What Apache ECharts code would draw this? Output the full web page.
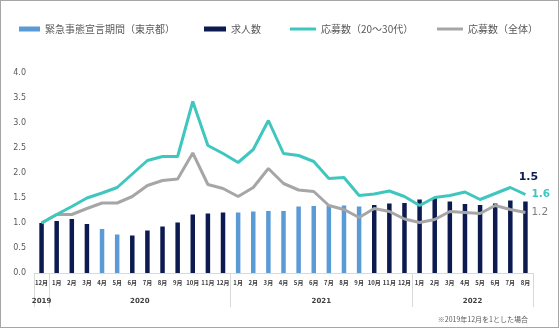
<!DOCTYPE html>
<html><head><meta charset="utf-8">
<script src="https://cdn.jsdelivr.net/npm/echarts@6/dist/echarts.min.js"></script>
<style>
html,body{margin:0;padding:0;background:#fff}
#c{position:absolute;left:0;top:0;width:559px;height:328px}
#b{position:absolute;left:0;top:0;width:559px;height:328px;box-sizing:border-box;border:1px solid #a6a6a6;pointer-events:none}
</style>
</head><body><div id="c"></div><div id="b"></div><script>
const months = ['12月','1月','2月','3月','4月','5月','6月','7月','8月','9月','10月','11月','12月',
  '1月','2月','3月','4月','5月','6月','7月','8月','9月','10月','11月','12月',
  '1月','2月','3月','4月','5月','6月','7月','8月'];
const years = ['2019','2020','2021','2022'];
const yearSpans = [1,12,12,8];
const emergency = [0,0,0,0,1,1,0,0,0,0,0,0,0, 1,1,1,1,1,1,1,1,1,0,0,0, 0,0,0,0,0,0,0,0];
const jobs = [1.00,1.04,1.08,0.98,0.88,0.77,0.75,0.85,0.93,1.01,1.17,1.19,1.21,
  1.21,1.23,1.24,1.24,1.33,1.34,1.35,1.35,1.33,1.36,1.39,1.40,
  1.47,1.51,1.43,1.38,1.36,1.39,1.45,1.43];
const applyYoung = [1.00,1.17,1.33,1.50,1.60,1.71,1.98,2.25,2.33,2.33,3.43,2.55,2.39,
  2.21,2.47,3.05,2.39,2.35,2.23,1.89,1.91,1.55,1.58,1.64,1.53,
  1.35,1.51,1.55,1.62,1.47,1.59,1.71,1.57];
const applyAll = [1.00,1.17,1.17,1.29,1.40,1.40,1.53,1.75,1.85,1.88,2.40,1.77,1.69,
  1.53,1.71,2.09,1.79,1.66,1.63,1.35,1.27,1.11,1.29,1.23,1.08,
  1.01,1.07,1.23,1.21,1.19,1.35,1.27,1.21];
const endLabels = ['1.5','1.6','1.2'];
const seriesNames = ['緊急事態宣言期間（東京都）','求人数','応募数（20～30代）','応募数（全体）'];
const footnote = '※2019年12月を1とした場合';

const last = months.length - 1;
const boundaries = [];
const yearCenter = {};
let start = 0;
years.forEach((y, k) => {
  boundaries.push(start);
  const span = yearSpans[k];
  const mid = start + (span - 1) / 2;
  const idx = Math.floor(mid);
  yearCenter[idx] = { text: y, shift: mid !== idx };
  start += span;
});

const CJK = '"Noto Sans CJK JP", sans-serif';
const NUM = '"DejaVu Sans", sans-serif';
const legendText = { fontSize: 10, color: '#595959', fontFamily: CJK };

const chart = echarts.init(document.getElementById('c'), null, { renderer: 'canvas' });
chart.setOption({
  animation: false,
  backgroundColor: '#fff',
  title: {
    text: footnote, right: 26, top: 311,
    textStyle: { fontSize: 7, color: '#595959', fontWeight: 'normal', fontFamily: CJK }
  },
  legend: [
    { data: [seriesNames[0]], left: 14, top: 19, itemWidth: 21, itemHeight: 5, icon: 'rect', textStyle: legendText },
    { data: [seriesNames[1]], left: 199, top: 19, itemWidth: 22, itemHeight: 5, icon: 'rect', textStyle: legendText },
    { data: [seriesNames[2]], left: 285, top: 19, itemWidth: 26, itemHeight: 3, icon: 'rect', textStyle: legendText },
    { data: [seriesNames[3]], left: 432, top: 19, itemWidth: 26, itemHeight: 3, icon: 'rect', textStyle: legendText }
  ],
  grid: { left: 34, right: 26, top: 73, bottom: 55, containLabel: false },
  xAxis: [
    {
      type: 'category', data: months, boundaryGap: true,
      axisLine: { show: true, lineStyle: { color: '#d9d9d9', width: 1 } },
      axisTick: {
        show: true, length: 34, alignWithLabel: false,
        interval: (i) => boundaries.indexOf(i) >= 0,
        lineStyle: { color: '#d9d9d9', width: 1 }
      },
      axisLabel: { interval: 0, fontSize: 6, fontWeight: 'bold', color: '#404040', fontFamily: CJK, margin: 7 }
    },
    {
      type: 'category', data: months, boundaryGap: true, position: 'bottom',
      axisLine: { show: false }, axisTick: { show: false },
      axisLabel: {
        interval: (i) => yearCenter[i] !== undefined,
        margin: 25,
        formatter: (v, i) => {
          const c = yearCenter[i];
          if (!c) return '';
          return c.shift ? '{s|' + c.text + '}' : '{n|' + c.text + '}';
        },
        rich: {
          s: { fontSize: 7, fontWeight: 'bold', color: '#404040', fontFamily: NUM, padding: [0, 0, 0, 15.1] },
          n: { fontSize: 7, fontWeight: 'bold', color: '#404040', fontFamily: NUM }
        }
      }
    }
  ],
  yAxis: {
    type: 'value', min: 0, max: 4, interval: 0.5,
    axisLine: { show: false }, axisTick: { show: false }, splitLine: { show: false },
    axisLabel: { formatter: (v) => v.toFixed(1), fontSize: 8, color: '#595959', fontFamily: NUM, margin: 8 }
  },
  series: [
    {
      name: seriesNames[0], type: 'bar', barWidth: 4.5, barGap: '-100%',
      itemStyle: { color: '#5b9bd5' },
      data: jobs.map((v, i) => emergency[i] ? v : '-')
    },
    {
      name: seriesNames[1], type: 'bar', barWidth: 4.5, barGap: '-100%',
      itemStyle: { color: '#0c1a50' },
      data: jobs.map((v, i) => emergency[i] ? '-' : v),
      label: {
        show: true, position: 'top', distance: 19, offset: [3, 0],
        formatter: (p) => p.dataIndex === last ? endLabels[0] : '',
        fontSize: 11, fontWeight: 'bold', color: '#0c1a50', fontFamily: NUM
      }
    },
    {
      name: seriesNames[3], type: 'line', symbol: 'none', showSymbol: false, z: 3,
      lineStyle: { width: 3, color: '#a6a6a6' }, itemStyle: { color: '#a6a6a6' },
      data: applyAll,
      endLabel: {
        show: true, distance: 6,
        formatter: () => endLabels[2],
        fontSize: 10.5, color: '#7f7f7f', fontFamily: NUM
      }
    },
    {
      name: seriesNames[2], type: 'line', symbol: 'none', showSymbol: false, z: 4,
      lineStyle: { width: 3, color: '#3fc7bf' }, itemStyle: { color: '#3fc7bf' },
      data: applyYoung,
      endLabel: {
        show: true, distance: 6,
        formatter: () => endLabels[1],
        fontSize: 10.5, fontWeight: 'bold', color: '#3fc7bf', fontFamily: NUM
      }
    }
  ]
});
</script></body></html>
